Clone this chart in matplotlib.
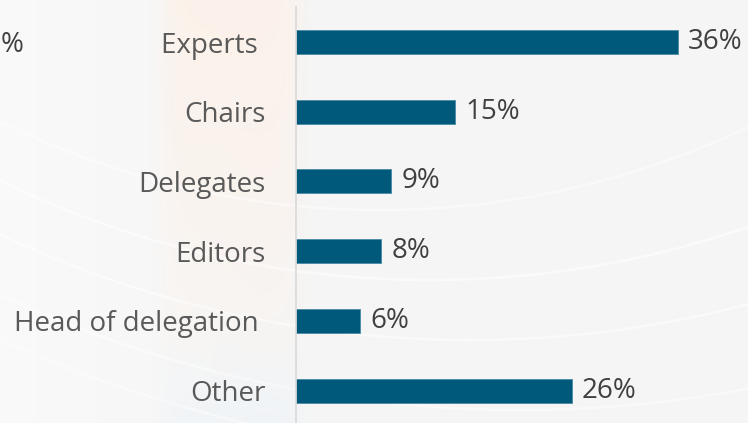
import numpy as np
import matplotlib
matplotlib.use("Agg")
import matplotlib.pyplot as plt

# Survey shares by participant role
roles = ["Experts ", "Chairs", "Delegates", "Editors", "Head of delegation ", "Other"]
shares = [36, 15, 9, 8, 6, 26]
value_labels = ["36%", "15%", "9%", "8%", "6%", "26%"]

BAR_COLOR = "#00587a"
LABEL_COLOR = "#595959"
VALUE_COLOR = "#404040"
FONT = ["Open Sans", "DejaVu Sans"]
FS = 20

W, H = 748, 423
fig = plt.figure(figsize=(W / 100, H / 100), dpi=100)
fig.patch.set_facecolor("#f5f5f5")

# --- soft backdrop: light grey with a warm vertical glow and white sweeping arcs
bg = fig.add_axes([0, 0, 1, 1], zorder=0)
bg.set_xlim(0, W)
bg.set_ylim(H, 0)
bg.axis("off")

xx, yy = np.meshgrid(np.arange(W), np.arange(H))
base = np.array([0.962, 0.962, 0.962])
img = np.ones((H, W, 3)) * base
# left side slightly whiter
left_fade = np.clip(1 - xx / 260.0, 0, 1)[..., None]
img = img * (1 - 0.6 * left_fade) + np.array([0.99, 0.99, 0.99]) * 0.6 * left_fade
# warm glow band behind the category labels
band = np.exp(-((xx - 230) / 70.0) ** 8)[..., None]
vert = np.clip(1 - yy / 380.0, 0, 1)[..., None] ** 0.7
warm = np.array([0.990, 0.945, 0.910])
w_amt = 0.85 * band * vert
img = img * (1 - w_amt) + warm * w_amt
# faint cool tint near the bottom of the band
cool = np.array([0.925, 0.950, 0.970])
c_amt = 0.5 * band * np.clip((yy - 330) / 90.0, 0, 1)[..., None]
img = img * (1 - c_amt) + cool * c_amt
bg.imshow(img, extent=(0, W, H, 0), aspect="auto", interpolation="bilinear")

theta = np.linspace(0, 2 * np.pi, 800)
for cx, cy, r, a in [(430, -700, 980, 0.55), (470, -760, 1100, 0.5),
                     (520, -820, 1230, 0.45), (380, -650, 860, 0.45),
                     (560, -900, 1360, 0.4)]:
    bg.plot(cx + r * np.cos(theta), cy + r * np.sin(theta),
            color="white", lw=1.8, alpha=a, solid_capstyle="round")

# stray percentage sign from a neighbouring chart at the left edge
fig.text(0.5 / W, 1 - 45 / H, "%", ha="left", va="center",
         fontsize=FS, color=VALUE_COLOR, family=FONT)

# --- bar chart
left_px, px_per_pct = 296, 10.6
xmax = 40
top_px, row_px = 7.2, 69.7
ax = fig.add_axes([left_px / W, 1 - (top_px + 6 * row_px) / H,
                   xmax * px_per_pct / W, 6 * row_px / H], zorder=1)
ax.patch.set_alpha(0)

y = np.arange(len(roles))
ax.barh(y, shares, height=0.345, color=BAR_COLOR, edgecolor="#4a8aa6", linewidth=0.6)
ax.set_xlim(0, xmax)
ax.set_ylim(len(roles) - 0.5, -0.5)

ax.set_yticks(y)
ax.set_yticklabels(roles, fontsize=FS, color=LABEL_COLOR, family=FONT)
ax.tick_params(axis="y", length=0, pad=22)
ax.set_xticks([])

for s in ["top", "right", "bottom"]:
    ax.spines[s].set_visible(False)
ax.spines["left"].set_color("#d9d9d9")
ax.spines["left"].set_linewidth(1.2)

for yi, v, lab in zip(y, shares, value_labels):
    ax.annotate(lab, xy=(v, yi), xytext=(7.5, 0), textcoords="offset points",
                ha="left", va="center", fontsize=FS, color=VALUE_COLOR, family=FONT)

fig.savefig("out.png", dpi=100, facecolor=fig.get_facecolor())
